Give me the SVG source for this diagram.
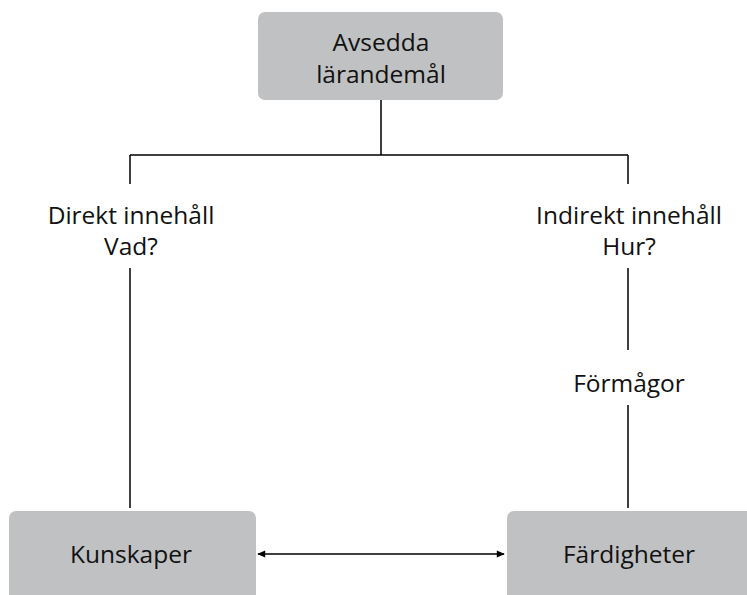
<svg xmlns="http://www.w3.org/2000/svg" width="747" height="595" viewBox="0 0 747 595">
<style>
.box{fill:#BFC1C2;}
.t{font-family:"Open Sans","Liberation Sans",sans-serif;font-size:24.5px;fill:#111;text-anchor:middle;}
.ln{stroke:#000;stroke-width:1.5;fill:none;}
</style>
<defs>
<marker id="ah" viewBox="0 0 10 10" refX="9" refY="5" markerWidth="9" markerHeight="8" orient="auto-start-reverse" markerUnits="userSpaceOnUse">
<path d="M0,0.5 L10,5 L0,9.5 z" fill="#000"/>
</marker>
</defs>
<rect width="747" height="595" fill="#fff"/>
<g id="connectors">
<path class="ln" d="M381,100 V155 M130,155 H628 M130,155 V184 M628,155 V184"/>
<path class="ln" d="M130,268 V508"/>
<path class="ln" d="M628,268 V350 M628,405 V508"/>
<line class="ln" x1="258" y1="554" x2="504" y2="554" marker-start="url(#ah)" marker-end="url(#ah)"/>
</g>
<g id="n-avsedda">
<rect class="box" x="258" y="12" width="245" height="88" rx="7"/>
<text class="t" x="381" y="51">Avsedda</text>
<text class="t" x="381" y="83">lärandemål</text>
</g>
<g id="l-direkt">
<text class="t" x="131" y="224">Direkt innehåll</text>
<text class="t" x="131" y="255">Vad?</text>
</g>
<g id="l-indirekt">
<text class="t" x="629" y="224">Indirekt innehåll</text>
<text class="t" x="629" y="255">Hur?</text>
</g>
<g id="l-formagor">
<text class="t" x="629" y="392">Förmågor</text>
</g>
<g id="n-kunskaper">
<rect class="box" x="9" y="511" width="247" height="95" rx="7"/>
<text class="t" x="131" y="563">Kunskaper</text>
</g>
<g id="n-fardigheter">
<rect class="box" x="507" y="511" width="250" height="95" rx="7"/>
<text class="t" x="629" y="563">Färdigheter</text>
</g>
</svg>
